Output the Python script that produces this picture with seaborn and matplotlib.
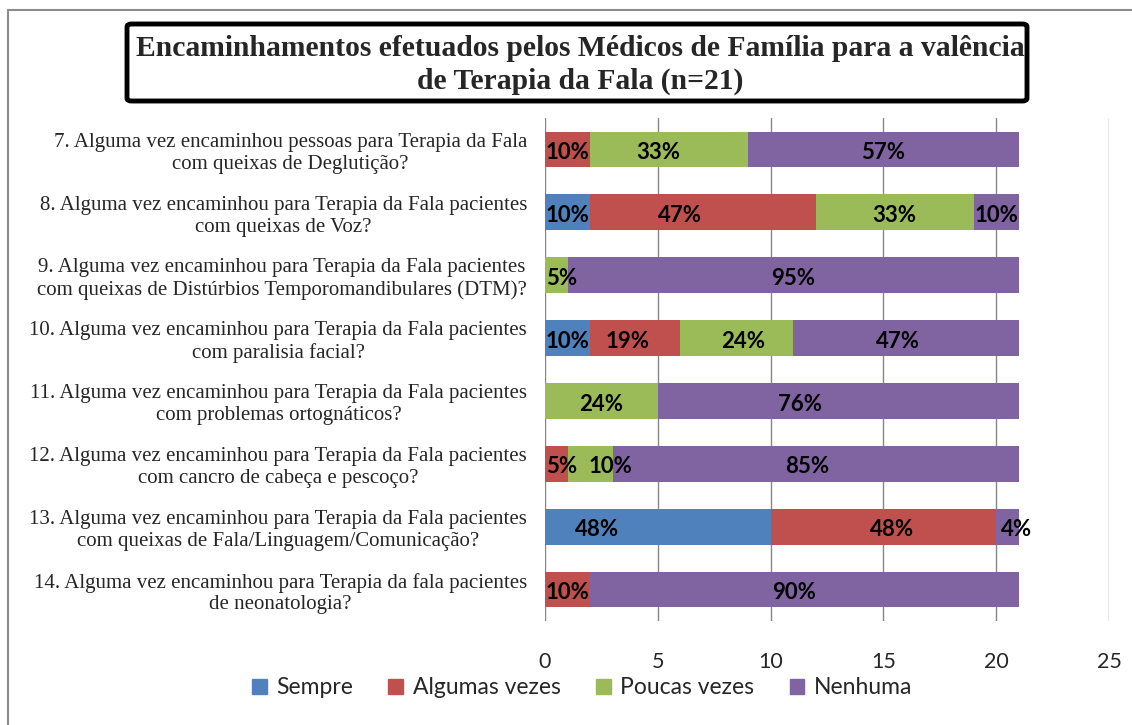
import numpy as np
import pandas as pd
import matplotlib
matplotlib.use("Agg")
import matplotlib.pyplot as plt
import seaborn as sns
from matplotlib.patches import Rectangle, FancyBboxPatch

# =========================
# Data (counts out of n=21)
# =========================
questions = [
    "7. Alguma vez encaminhou pessoas para Terapia da Fala\ncom queixas de Deglutição?",
    "8. Alguma vez encaminhou para Terapia da Fala pacientes\ncom queixas de Voz?",
    "9. Alguma vez encaminhou para Terapia da Fala pacientes\ncom queixas de Distúrbios Temporomandibulares (DTM)?",
    "10. Alguma vez encaminhou para Terapia da Fala pacientes\ncom paralisia facial?",
    "11. Alguma vez encaminhou para Terapia da Fala pacientes\ncom problemas ortognáticos?",
    "12. Alguma vez encaminhou para Terapia da Fala pacientes\ncom cancro de cabeça e pescoço?",
    "13. Alguma vez encaminhou para Terapia da Fala pacientes\ncom queixas de Fala/Linguagem/Comunicação?",
    "14. Alguma vez encaminhou para Terapia da fala pacientes\nde neonatologia?",
]
series = ["Sempre", "Algumas vezes", "Poucas vezes", "Nenhuma"]

sempre = [0, 2, 0, 2, 0, 0, 10, 0]
algumas = [2, 10, 0, 4, 0, 1, 10, 2]
poucas = [7, 7, 1, 5, 5, 2, 0, 0]
nenhuma = [12, 2, 20, 10, 16, 18, 1, 19]

# percentage labels as printed on the chart
lab_sempre = ["", "10%", "", "10%", "", "", "48%", ""]
lab_algumas = ["10%", "47%", "", "19%", "", "5%", "48%", "10%"]
lab_poucas = ["33%", "33%", "5%", "24%", "24%", "10%", "", ""]
lab_nenhuma = ["57%", "10%", "95%", "47%", "76%", "85%", "4%", "90%"]

colors = ["#4F81BD", "#C0504D", "#9BBB59", "#8064A2"]

df = pd.DataFrame({"question": questions, "Sempre": sempre, "Algumas vezes": algumas,
                   "Poucas vezes": poucas, "Nenhuma": nenhuma})
labels = {"Sempre": lab_sempre, "Algumas vezes": lab_algumas,
          "Poucas vezes": lab_poucas, "Nenhuma": lab_nenhuma}

# labels that were nudged away from the segment centre in the original
label_nudge = {(6, "Sempre"): -2.7, (1, "Algumas vezes"): -1.0, (4, "Nenhuma"): -1.7,
               (5, "Poucas vezes"): 0.9, (5, "Algumas vezes"): 0.25, (2, "Poucas vezes"): 0.25,
               (0, "Poucas vezes"): -0.5, (5, "Nenhuma"): -0.4, (7, "Nenhuma"): -0.45,
               (3, "Nenhuma"): -0.35, (3, "Algumas vezes"): -0.35, (3, "Poucas vezes"): 0.3,
               (6, "Algumas vezes"): 0.4, (6, "Nenhuma"): 0.4}

# cumulative sums for stacking
cum = df[series].cumsum(axis=1)

# =========================
# Plot
# =========================
sns.set_style("white")
plt.rcParams['font.family'] = ['Lato', 'DejaVu Sans']

fig = plt.figure(figsize=(11.32, 7.25), dpi=100)
ax = fig.add_axes([545 / 1132, 1 - 621 / 725, (1109 - 545) / 1132, (621 - 118) / 725])

# draw from the full stack down so each segment shows
for s, c in zip(series[::-1], colors[::-1]):
    sns.barplot(x=cum[s], y=df["question"], orient="h", color=c, width=0.57,
                ax=ax, saturation=1, linewidth=0, zorder=3)

# percentage labels in the middle of each segment
for i in range(len(questions)):
    left = 0
    for s in series:
        v = df.loc[i, s]
        txt = labels[s][i]
        if txt:
            xpos = left + v / 2 + label_nudge.get((i, s), 0)
            ax.text(xpos, i + 0.05, txt, ha="center", va="center", fontsize=16,
                    fontweight="bold", color="black", zorder=5)
        left += v

ax.set_xlim(0, 25)
ax.set_ylim(7.5, -0.5)
ax.set_xticks(range(0, 26, 5))
ax.grid(axis="x", color="#868686", linewidth=1, zorder=0)
ax.set_axisbelow(True)
for sp in ax.spines.values():
    sp.set_visible(False)
ax.tick_params(axis="x", length=0, labelsize=15.5, pad=22)
ax.tick_params(axis="y", length=0, pad=13)
ax.set_xlabel("")
ax.set_ylabel("")
for t in ax.get_yticklabels():
    t.set_fontfamily("Liberation Serif")
    t.set_fontsize(15)
    t.set_multialignment("center")
    t.set_linespacing(1.2)

# legend
handles = [Rectangle((0, 0), 1, 1, color=c) for c in colors]
fig.legend(handles, series, loc="center", bbox_to_anchor=(582 / 1132, 1 - 688 / 725),
           ncol=4, frameon=False, fontsize=16.5, handlelength=0.65, handleheight=0.65,
           handletextpad=0.4, columnspacing=1.55)

# title with a black frame
box = FancyBboxPatch((127 / 1132, 1 - 101 / 725), (1027 - 127) / 1132, (101 - 24) / 725,
                     boxstyle="round,pad=0,rounding_size=0.004", transform=fig.transFigure,
                     facecolor="white", edgecolor="black", linewidth=3.5)
fig.add_artist(box)
fig.text(580 / 1132, 1 - 65 / 725,
         "Encaminhamentos efetuados pelos Médicos de Família para a valência\nde Terapia da Fala (n=21)",
         ha="center", va="center", fontsize=21.3, fontweight="bold",
         family="Liberation Serif", linespacing=1.25)

# outer chart area frame (only left and top visible)
frame = Rectangle((8 / 1132, -0.1), 1.2, 1 - 10 / 725 + 0.1, transform=fig.transFigure,
                  fill=False, edgecolor="#8c8c8c", linewidth=1.5)
fig.add_artist(frame)

fig.savefig("out.png", dpi=100)
